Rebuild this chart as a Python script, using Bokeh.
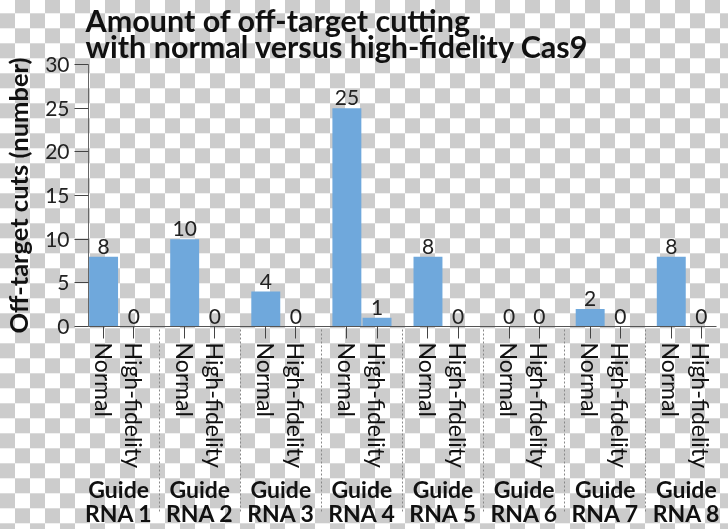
from bokeh.plotting import figure
from bokeh.models import FactorRange, Range1d, ColumnDataSource, CategoricalAxis
from bokeh.core.properties import value
from bokeh.embed import file_html
from bokeh.resources import INLINE

# ---- data ----
guides = ["Guide\nRNA 1", "Guide\nRNA 2", "Guide\nRNA 3", "Guide\nRNA 4",
          "Guide\nRNA 5", "Guide\nRNA 6", "Guide\nRNA 7", "Guide\nRNA 8"]
variants = ["Normal", "High-fidelity"]
normal_cuts = [8, 10, 4, 25, 8, 0, 2, 8]
hifi_cuts = [0, 0, 0, 1, 0, 0, 0, 0]
y_ticks = [0, 5, 10, 15, 20, 25, 30]
title_text = "Amount of off-target cutting\nwith normal versus high-fidelity Cas9"
y_label = "Off-target cuts (number)"

factors = []
vals = []
for g, n, h in zip(guides, normal_cuts, hifi_cuts):
    factors.append((g, variants[0])); vals.append(n)
    factors.append((g, variants[1])); vals.append(h)

src = ColumnDataSource(dict(x=factors, top=vals, label=[str(v) for v in vals]))

FONT = "Lato"
BAR = "#6FA8DC"

x_range = FactorRange(*factors, group_padding=0.69, factor_padding=0.0,
                      range_padding=0.0)
p = figure(x_range=x_range, y_range=Range1d(0, 30),
           width=728, height=529, output_backend="svg", toolbar_location=None,
           title=title_text, x_axis_type=None,
           min_border_left=86, min_border_right=12, min_border_top=62,
           min_border_bottom=0)

p.styles = {
    "position": "fixed",
    "top": "0px",
    "left": "0px",
    "background-image": "conic-gradient(#cccccc 0 25%, #ffffff 0 50%, #cccccc 0 75%, #ffffff 0)",
    "background-size": "30px 30px",
    "background-position": "0px 28.3px",
}
p.border_fill_color = None
p.background_fill_color = None
p.outline_line_color = None
p.xgrid.grid_line_color = None
p.ygrid.grid_line_color = None

p.title.text_font = FONT
p.title.text_font_style = "bold"
p.title.text_font_size = "30.5px"
p.title.text_color = "#111111"
p.title.align = "left"
p.title.offset = -3
p.title.standoff = 0
p.title.text_line_height = 0.725

xaxis = CategoricalAxis()
xaxis.axis_line_color = "#555555"
xaxis.major_tick_line_color = "#444444"
xaxis.major_tick_out = 12
xaxis.major_tick_in = 0
xaxis.minor_tick_line_color = None
xaxis.major_label_orientation = "vertical"
xaxis.major_label_standoff = 4
xaxis.major_label_text_font = FONT
xaxis.major_label_text_font_size = "23px"
xaxis.major_label_text_color = "#111111"
xaxis.group_text_font = FONT
xaxis.group_text_font_style = "bold"
xaxis.group_text_font_size = "23px"
xaxis.group_text_color = "#111111"
xaxis.group_text_line_height = 0.85
xaxis.group_label_orientation = "horizontal"
xaxis.separator_line_color = "#888888"
xaxis.separator_line_width = 1
xaxis.separator_line_dash = "2 2"
p.add_layout(xaxis, "below")

ya = p.yaxis[0]
ya.ticker = y_ticks
ya.axis_line_color = "#666666"
ya.major_tick_line_color = "#444444"
ya.major_tick_out = 14
ya.major_tick_in = 0
ya.minor_tick_line_color = None
ya.major_label_standoff = 5
ya.major_label_text_font = FONT
ya.major_label_text_font_size = "21px"
ya.major_label_text_color = "#222222"
ya.axis_label = y_label
ya.axis_label_text_font = FONT
ya.axis_label_text_font_style = "bold"
ya.axis_label_text_font_size = "25.5px"
ya.axis_label_text_color = "#111111"
ya.axis_label_standoff = 9

p.vbar(x="x", top="top", width=0.96, source=src, fill_color=BAR, line_color=None)
p.text(x="x", y="top", text="label", source=src, text_align="center",
       text_baseline="bottom", y_offset=-3, text_font=value(FONT),
       text_font_size="21px", text_color="#222222")

open("out.html", "w").write(file_html(p, INLINE))
